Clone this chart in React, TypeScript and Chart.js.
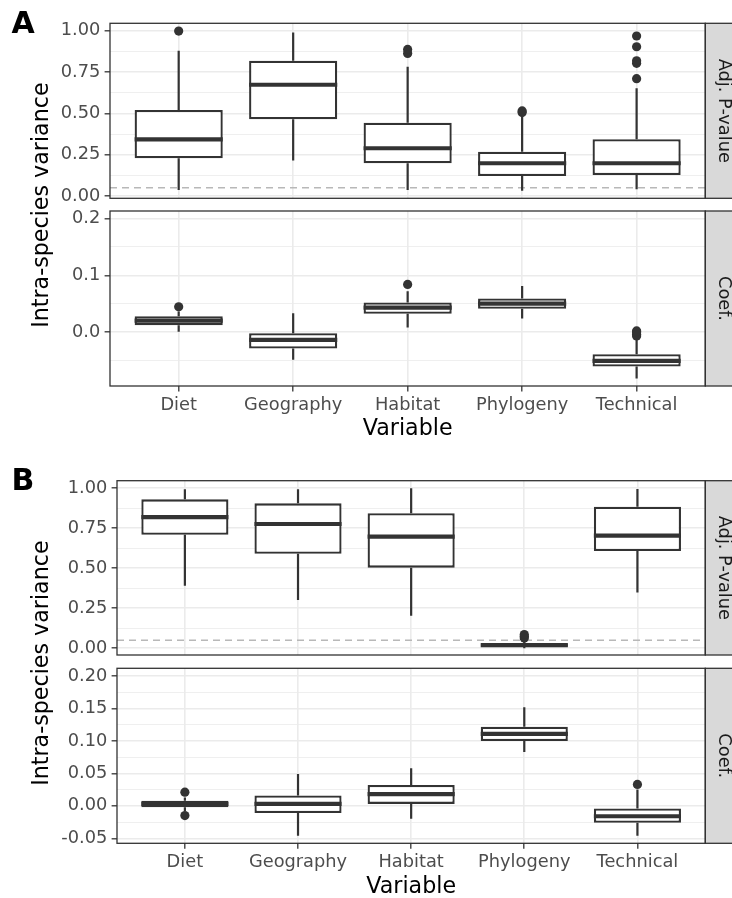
import React, { useEffect, useRef } from "react";
import { Chart, registerables } from "chart.js";

Chart.register(...registerables);
Chart.defaults.font.family = "'DejaVu Sans', sans-serif";

// ---------- data ----------
const categories = ["Diet", "Geography", "Habitat", "Phylogeny", "Technical"];

// Panel A, Adj. P-value
const aP_low = [0.036, 0.214, 0.036, 0.032, 0.041];
const aP_q1 = [0.228, 0.464, 0.198, 0.121, 0.127];
const aP_med = [0.343, 0.673, 0.289, 0.198, 0.198];
const aP_q3 = [0.52, 0.818, 0.443, 0.268, 0.343];
const aP_high = [0.879, 0.99, 0.782, 0.49, 0.652];
const aP_out = [[0.998], [], [0.863, 0.887], [0.505, 0.515], [0.71, 0.803, 0.818, 0.903, 0.968]];

// Panel A, Coef.
const aC_low = [0.0005, -0.049, 0.008, 0.024, -0.082];
const aC_q1 = [0.012, -0.029, 0.032, 0.041, -0.061];
const aC_med = [0.02, -0.014, 0.043, 0.05, -0.051];
const aC_q3 = [0.028, -0.002, 0.052, 0.059, -0.039];
const aC_high = [0.036, 0.033, 0.072, 0.081, -0.014];
const aC_out = [[0.0445], [], [0.084], [], [-0.007, -0.004, 0.0, 0.002]];

// Panel B, Adj. P-value
const bP_low = [0.391, 0.302, 0.204, 0.0, 0.348];
const bP_q1 = [0.71, 0.591, 0.504, 0.01, 0.608];
const bP_med = [0.82, 0.777, 0.698, 0.02, 0.704];
const bP_q3 = [0.931, 0.906, 0.844, 0.03, 0.885];
const bP_high = [0.994, 0.994, 1.0, 0.05, 0.996];
const bP_out = [[], [], [], [0.064, 0.075, 0.086], []];

// Panel B, Coef.
const bC_low = [-0.008, -0.046, -0.02, 0.083, -0.046];
const bC_q1 = [-0.002, -0.011, 0.003, 0.1, -0.026];
const bC_med = [0.003, 0.003, 0.018, 0.111, -0.016];
const bC_q3 = [0.008, 0.016, 0.032, 0.122, -0.004];
const bC_high = [0.013, 0.049, 0.058, 0.152, 0.025];
const bC_out = [[-0.015, 0.021], [], [], [], [0.033]];

// ticks
const pMajor = [0, 0.25, 0.5, 0.75, 1];
const pMinor = [0.125, 0.375, 0.625, 0.875];
const aCoefMajor = [0, 0.1, 0.2];
const aCoefMinor = [-0.05, 0.05, 0.15];
const bCoefMajor = [-0.05, 0, 0.05, 0.1, 0.15, 0.2];
const bCoefMinor = [-0.025, 0.025, 0.075, 0.125, 0.175];

const thresholdLine = 0.05;
const stripLabels = ["Adj. P-value", "Coef."];
const xTitle = "Variable";
const yTitle = "Intra-species variance";
const panelLabels = ["A", "B"];

// ---------- component ----------
type FacetProps = {
  canvasTop: number;
  canvasHeight: number;
  padTop: number;
  padBottom: number;
  xHeight: number;
  titlePad: number;
  areaLeft: number;
  yMin: number;
  yMax: number;
  majors: number[];
  minors: number[];
  decimals: number;
  low: number[];
  q1: number[];
  med: number[];
  q3: number[];
  high: number[];
  outliers: number[][];
  strip: string;
  showX: boolean;
  hline: number | null;
};

const DARK = "#333333";
const TICK_FONT = 17.8;
const TITLE_FONT = 22.2;

function Facet(p: FacetProps) {
  const ref = useRef<HTMLCanvasElement>(null);
  useEffect(() => {
    const canvas = ref.current!;
    const isMajor = (v: number) => p.majors.some((m) => Math.abs(m - v) < 1e-9);
    const allTicks = [...p.majors, ...p.minors].sort((a, b) => a - b);
    const boxes = categories.map((_, i) => ({ x: i + 1, y: [p.q1[i], p.q3[i]] }));
    const pts = p.outliers.flatMap((arr, i) => arr.map((v) => ({ x: i + 1, y: v })));

    const plugin = {
      id: "boxparts",
      beforeDatasetsDraw(chart: any) {
        const { ctx, chartArea, scales } = chart;
        const xs = scales.x;
        const ys = scales.y;
        ctx.save();
        if (p.hline !== null) {
          const y = ys.getPixelForValue(p.hline);
          ctx.strokeStyle = "#B8B8B8";
          ctx.lineWidth = 1.6;
          ctx.setLineDash([7, 5]);
          ctx.beginPath();
          ctx.moveTo(chartArea.left, y);
          ctx.lineTo(chartArea.right, y);
          ctx.stroke();
          ctx.setLineDash([]);
        }
        ctx.strokeStyle = DARK;
        ctx.lineWidth = 2.2;
        categories.forEach((_, i) => {
          const x = xs.getPixelForValue(i + 1);
          ctx.beginPath();
          ctx.moveTo(x, ys.getPixelForValue(p.q3[i]));
          ctx.lineTo(x, ys.getPixelForValue(p.high[i]));
          ctx.moveTo(x, ys.getPixelForValue(p.q1[i]));
          ctx.lineTo(x, ys.getPixelForValue(p.low[i]));
          ctx.stroke();
        });
        ctx.restore();
      },
      afterDatasetDraw(chart: any, args: any) {
        if (args.index !== 0) return;
        const { ctx, scales } = chart;
        const ys = scales.y;
        const meta = chart.getDatasetMeta(0);
        ctx.save();
        ctx.strokeStyle = DARK;
        ctx.lineWidth = 4.2;
        meta.data.forEach((el: any, i: number) => {
          const { x, width } = el.getProps(["x", "width"], true);
          const y = ys.getPixelForValue(p.med[i]);
          ctx.beginPath();
          ctx.moveTo(x - width / 2, y);
          ctx.lineTo(x + width / 2, y);
          ctx.stroke();
        });
        ctx.restore();
      },
      afterDraw(chart: any) {
        const { ctx, chartArea } = chart;
        const { left, top, right, bottom } = chartArea;
        ctx.save();
        // strip
        ctx.fillStyle = "#D9D9D9";
        ctx.fillRect(right, top, 40, bottom - top);
        ctx.strokeStyle = DARK;
        ctx.lineWidth = 1.3;
        ctx.strokeRect(right, top, 40, bottom - top);
        ctx.translate(right + 13.2, (top + bottom) / 2);
        ctx.rotate(Math.PI / 2);
        ctx.font = `${TICK_FONT}px 'DejaVu Sans', sans-serif`;
        ctx.fillStyle = "#1A1A1A";
        ctx.textAlign = "center";
        ctx.textBaseline = "alphabetic";
        ctx.fillText(p.strip, 0, 0);
        ctx.restore();
        // panel border
        ctx.save();
        ctx.strokeStyle = DARK;
        ctx.lineWidth = 1.3;
        ctx.strokeRect(left, top, right - left, bottom - top);
        ctx.restore();
      },
    };

    const chart = new Chart(canvas, {
      type: "bar",
      data: {
        datasets: [
          {
            type: "bar",
            data: boxes as any,
            backgroundColor: "#FFFFFF",
            borderColor: DARK,
            borderWidth: 2.3,
            borderSkipped: false,
            barPercentage: 0.77,
            categoryPercentage: 1,
            order: 2,
          } as any,
          {
            type: "scatter",
            data: pts,
            backgroundColor: DARK,
            borderWidth: 0,
            pointRadius: 4.6,
            order: 1,
          } as any,
        ],
      },
      options: {
        animation: false,
        responsive: false,
        maintainAspectRatio: false,
        events: [],
        layout: { padding: { top: p.padTop, bottom: p.padBottom, left: 0, right: 26.7 } },
        plugins: { legend: { display: false }, tooltip: { enabled: false } },
        scales: {
          x: {
            type: "linear",
            min: 0.4,
            max: 5.6,
            offset: false,
            afterBuildTicks: (s: any) => {
              s.ticks = categories.map((_, i) => ({ value: i + 1 }));
            },
            afterFit: (s: any) => {
              s.height = p.xHeight;
            },
            grid: {
              color: "#EBEBEB",
              lineWidth: 1.6,
              offset: false,
              drawTicks: p.showX,
              tickLength: 5.4,
              tickColor: DARK,
              tickWidth: 1.3,
            },
            border: { display: false },
            ticks: {
              display: p.showX,
              autoSkip: false,
              maxRotation: 0,
              minRotation: 0,
              padding: 3.5,
              color: "#4D4D4D",
              font: { size: TICK_FONT },
              callback: (v: any) => categories[Math.round(Number(v)) - 1] ?? "",
            },
            title: {
              display: p.showX,
              text: xTitle,
              color: "#000000",
              font: { size: TITLE_FONT, lineHeight: 1 },
              padding: { top: 0, bottom: p.titlePad },
            },
          } as any,
          y: {
            type: "linear",
            min: p.yMin,
            max: p.yMax,
            afterBuildTicks: (s: any) => {
              s.ticks = allTicks.map((v) => ({ value: v }));
            },
            afterFit: (s: any) => {
              s.width = p.areaLeft;
            },
            grid: {
              color: "#EBEBEB",
              lineWidth: (c: any) => (c.tick && isMajor(c.tick.value) ? 1.6 : 0.8),
              tickLength: 5.4,
              tickColor: (c: any) => (c.tick && isMajor(c.tick.value) ? DARK : "rgba(0,0,0,0)"),
              tickWidth: 1.3,
            },
            border: { display: false },
            ticks: {
              autoSkip: false,
              padding: 4.3,
              color: "#4D4D4D",
              font: { size: TICK_FONT },
              callback: (v: any) => (isMajor(Number(v)) ? Number(v).toFixed(p.decimals) : ""),
            },
          } as any,
        },
      },
      plugins: [plugin as any],
    });
    return () => chart.destroy();
  }, []);
  return (
    <canvas
      ref={ref}
      width={732}
      height={p.canvasHeight}
      style={{ position: "absolute", left: 0, top: p.canvasTop, width: 732, height: p.canvasHeight }}
    />
  );
}

const labelStyle = (left: number, top: number): React.CSSProperties => ({
  position: "absolute",
  left,
  top,
  font: "bold 30px/30px 'DejaVu Sans', sans-serif",
  color: "#000",
});

const yTitleStyle = (cx: number, cy: number): React.CSSProperties => ({
  position: "absolute",
  left: cx - 150,
  top: cy - TITLE_FONT / 2,
  width: 300,
  height: TITLE_FONT,
  lineHeight: `${TITLE_FONT}px`,
  fontSize: TITLE_FONT,
  fontFamily: "'DejaVu Sans', sans-serif",
  color: "#000",
  textAlign: "center",
  whiteSpace: "nowrap",
  transform: "rotate(-90deg)",
});

export default function App() {
  return (
    <div
      style={{
        position: "absolute",
        left: 0,
        top: 0,
        width: 732,
        height: 898,
        background: "#FFFFFF",
        overflow: "hidden",
      }}
    >
      <Facet
        canvasTop={0}
        canvasHeight={228}
        padTop={23.3}
        padBottom={29.7}
        xHeight={0}
        titlePad={0}
        areaLeft={110}
        yMin={-0.014}
        yMax={1.045}
        majors={pMajor}
        minors={pMinor}
        decimals={2}
        low={aP_low}
        q1={aP_q1}
        med={aP_med}
        q3={aP_q3}
        high={aP_high}
        outliers={aP_out}
        strip={stripLabels[0]}
        showX={false}
        hline={thresholdLine}
      />
      <Facet
        canvasTop={181}
        canvasHeight={265}
        padTop={30}
        padBottom={0}
        xHeight={60}
        titlePad={5.3}
        areaLeft={110}
        yMin={-0.0952}
        yMax={0.2134}
        majors={aCoefMajor}
        minors={aCoefMinor}
        decimals={1}
        low={aC_low}
        q1={aC_q1}
        med={aC_med}
        q3={aC_q3}
        high={aC_high}
        outliers={aC_out}
        strip={stripLabels[1]}
        showX={true}
        hline={null}
      />
      <Facet
        canvasTop={450}
        canvasHeight={235}
        padTop={30.7}
        padBottom={30}
        xHeight={0}
        titlePad={0}
        areaLeft={117}
        yMin={-0.042}
        yMax={1.0475}
        majors={pMajor}
        minors={pMinor}
        decimals={2}
        low={bP_low}
        q1={bP_q1}
        med={bP_med}
        q3={bP_q3}
        high={bP_high}
        outliers={bP_out}
        strip={stripLabels[0]}
        showX={false}
        hline={thresholdLine}
      />
      <Facet
        canvasTop={638}
        canvasHeight={260}
        padTop={30.3}
        padBottom={0}
        xHeight={54.7}
        titlePad={0}
        areaLeft={117}
        yMin={-0.0577}
        yMax={0.2119}
        majors={bCoefMajor}
        minors={bCoefMinor}
        decimals={2}
        low={bC_low}
        q1={bC_q1}
        med={bC_med}
        q3={bC_q3}
        high={bC_high}
        outliers={bC_out}
        strip={stripLabels[1]}
        showX={true}
        hline={null}
      />
      <div style={labelStyle(11.4, 7.9)}>{panelLabels[0]}</div>
      <div style={labelStyle(11.4, 464.6)}>{panelLabels[1]}</div>
      <div style={yTitleStyle(39.6, 205)}>{yTitle}</div>
      <div style={yTitleStyle(39.6, 663)}>{yTitle}</div>
    </div>
  );
}
